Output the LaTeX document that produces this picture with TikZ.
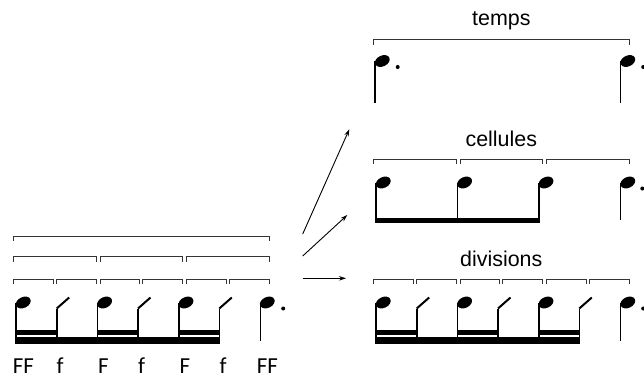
\documentclass[tikz,border=0pt]{standalone}
\usepackage{fontspec}
\setmainfont{Liberation Sans}
\newfontfamily\accfont{Carlito}
\usetikzlibrary{arrows.meta}

\begin{document}
\begin{tikzpicture}[x=1bp,y=-1bp,
  bracket/.style={draw=black!80,line width=1bp},
  stem/.style={line width=1.6bp},
  slash/.style={line width=2bp},
  arrow/.style={-{Stealth[length=7bp,width=4.5bp]},line width=0.9bp}]
\useasboundingbox (0,0) rectangle (644,383);
%\draw[help lines,step=20] (0,0) grid (644,383);

% brackets
\foreach \a/\b/\y in {13.3/269.3/236, 13.3/96.7/256.7, 100/182.7/256.7, 186/269.3/256.7,
  373.3/629.3/39.5, 373.3/456.7/159.3, 460/542.7/159.3, 546/629.3/159.3}
  \draw[bracket] (\a,\y+5) -- (\a,\y) -- (\b,\y) -- (\b,\y+5);
\foreach \dx in {0,360}
  \foreach \a/\b in {13.3/53.3, 56.7/96.7, 100/139, 142.7/182.7, 186/226, 229.3/269.3}
    \draw[bracket] (\a+\dx,284) -- (\a+\dx,279) -- (\b+\dx,279) -- (\b+\dx,284);

% note heads
\foreach \x/\y in {16/302.5, 97.3/302.5, 178.7/302.5, 260/302.5,
  376/302.5, 457.3/302.5, 538.7/302.5, 620.5/302.5,
  376/182.5, 457.3/182.5, 538.7/182.5, 620.5/182.5, 375/61, 620.5/61}
  \fill (\x+7.3,\y) circle[x radius=7.8bp,y radius=5.4bp,rotate=25];

% divisions
\foreach \dx in {0,360} {
  \foreach \x in {16,97.3,178.7} {
    \draw[stem] (\x+\dx,302.5) -- (\x+\dx,344);
    \fill (\x+\dx-0.8,330) rectangle (\x+\dx+41.5,335);
  }
  \foreach \x in {56.7,138,219.3} {
    \draw[stem] (\x+\dx,308.5) -- (\x+\dx,344);
    \draw[slash] (\x+\dx,308.5) -- (\x+\dx+12.5,297.5);
  }
  \fill (15.2+\dx,337.3) rectangle (220.1+\dx,344);
  \draw[stem] (260.5+\dx,302.5) -- (260.5+\dx,340.5);
  \fill (283.2+\dx,308.5) circle[radius=2bp];
}

% cellules
\foreach \x in {376,457.3,538.7}
  \draw[stem] (\x,182.5) -- (\x,223.3);
\fill (375.2,218.3) rectangle (539.5,223.3);
\draw[stem] (620.5,182.5) -- (620.5,220);
\fill (642.3,188.5) circle[radius=2bp];

% temps
\foreach \x in {375,620.5} {
  \draw[stem] (\x,61) -- (\x,103);
  \fill (\x+22.7,67) circle[radius=2bp];
}

\foreach \x/\t/\n in {23.3/FF/s1, 60/f/s2, 103.3/F/s3, 141.5/f/s4, 185/F/s5, 223/f/s6, 267.5/FF/s7}
  \node[anchor=base,inner sep=0pt,font=\accfont\fontsize{23}{26}\selectfont] (\n) at (\x,373.3) {\t};

\node[anchor=base,inner sep=0pt,font=\fontsize{21.5}{24}\selectfont] (temps) at (501.3,25) {temps};
\node[anchor=base,inner sep=0pt,font=\fontsize{21.5}{24}\selectfont] (cellules) at (501.3,146.7) {cellules};
\node[anchor=base,inner sep=0pt,font=\fontsize{21.5}{24}\selectfont] (divisions) at (501.3,266) {divisions};

\coordinate (from-temps) at (302.7,234);
\coordinate (to-temps) at (349.3,129.3);
\coordinate (from-cellules) at (302.7,256);
\coordinate (to-cellules) at (347.3,215);
\coordinate (from-divisions) at (302.7,278.3);
\coordinate (to-divisions) at (346,278.3);
\foreach \s/\t in {from-temps/to-temps, from-cellules/to-cellules, from-divisions/to-divisions}
  \draw[arrow] (\s) -- (\t);
\end{tikzpicture}
\end{document}
